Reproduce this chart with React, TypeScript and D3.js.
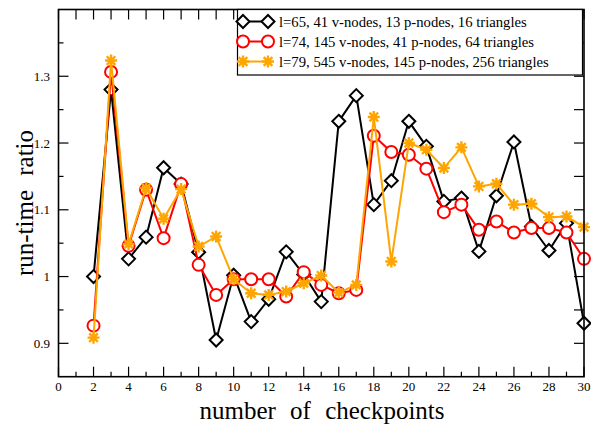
import React from "react";
import * as d3 from "d3";

const checkpoints = d3.range(2, 31);

const l65 = [1.0, 1.28, 1.0265, 1.059, 1.163, 1.1385, 1.0365, 0.905, 1.002, 0.9325, 0.966, 1.037, 1.003, 0.9625, 1.2325, 1.271, 1.1077, 1.1436, 1.2325, 1.195, 1.1126, 1.1176, 1.0377, 1.121, 1.2016, 1.075, 1.039, 1.08, 0.93];
const l74 = [0.9265, 1.3065, 1.046, 1.13, 1.0575, 1.1385, 1.0175, 0.9725, 0.996, 0.996, 0.996, 0.97, 1.0066, 0.9875, 0.975, 0.98, 1.211, 1.1866, 1.1825, 1.1616, 1.0965, 1.1077, 1.07, 1.0825, 1.066, 1.0726, 1.0726, 1.066, 1.0265];
const l79 = [0.9085, 1.3235, 1.0486, 1.1327, 1.0865, 1.131, 1.045, 1.06, 0.996, 0.975, 0.9725, 0.9775, 0.99, 1.0015, 0.976, 0.9875, 1.239, 1.0225, 1.2, 1.19, 1.1625, 1.1935, 1.135, 1.139, 1.1077, 1.109, 1.089, 1.09, 1.074];

const seriesNames = [
  "l=65, 41 v-nodes, 13 p-nodes, 16 triangles",
  "l=74, 145 v-nodes, 41 p-nodes, 64 triangles",
  "l=79, 545 v-nodes, 145 p-nodes, 256 triangles",
];
const seriesColors = ["#000000", "#ff0000", "#ffa500"];
const seriesMarkers = ["diamond", "circle", "star"];
const seriesValues = [l65, l74, l79];

const xTicks = d3.range(0, 31, 2);
const yTicks = [0.9, 1, 1.1, 1.2, 1.3];

const W = 591;
const H = 431;
const left = 58.5;
const right = 584;
const top = 9.5;
const bottom = 376.7;

const serif = "Liberation Serif, Times New Roman, Times, serif";

function markerPath(kind: string): string {
  if (kind === "diamond") return "M0,-6.5L6.5,0L0,6.5L-6.5,0Z";
  if (kind === "star") {
    const r = 6;
    const d = r * 0.72;
    return `M0,${-r}V${r}M${-r},0H${r}M${-d},${-d}L${d},${d}M${-d},${d}L${d},${-d}`;
  }
  return d3.symbol(d3.symbolCircle, 113)() as string;
}

function Marker({ kind, color, x, y }: { kind: string; color: string; x: number; y: number }) {
  return (
    <path
      d={markerPath(kind)}
      transform={`translate(${x},${y})`}
      fill={kind === "star" ? "none" : "#fff"}
      stroke={color}
      strokeWidth={kind === "star" ? 2.4 : 2}
    />
  );
}

export default function App() {
  const x = d3.scaleLinear().domain([0, 30]).range([left, right]);
  const y = d3.scaleLinear().domain([0.85, 1.4]).range([bottom, top]);

  const line = d3
    .line<number>()
    .x((_, i) => x(checkpoints[i]))
    .y((v) => y(v));

  const xMinor = d3.range(1, 30, 2);
  const yMinor = d3.range(0.95, 1.4, 0.1);

  return (
    <svg
      width={W}
      height={H}
      style={{ position: "absolute", left: 0, top: 0, background: "#fff", fontFamily: serif }}
    >
      <rect width={W} height={H} fill="#fff" />

      {/* ticks */}
      <g stroke="#000" strokeWidth={1.2}>
        {xTicks.map((t) => (
          <g key={"xt" + t}>
            <line x1={x(t)} x2={x(t)} y1={bottom} y2={bottom - 10} />
            <line x1={x(t)} x2={x(t)} y1={top} y2={top + 10} />
          </g>
        ))}
        {xMinor.map((t) => (
          <g key={"xm" + t}>
            <line x1={x(t)} x2={x(t)} y1={bottom} y2={bottom - 5} />
            <line x1={x(t)} x2={x(t)} y1={top} y2={top + 10} />
          </g>
        ))}
        {yTicks.map((t) => (
          <g key={"yt" + t}>
            <line x1={left} x2={left + 10} y1={y(t)} y2={y(t)} />
            <line x1={right} x2={right - 10} y1={y(t)} y2={y(t)} />
          </g>
        ))}
        {yMinor.map((t) => (
          <g key={"ym" + t}>
            <line x1={left} x2={left + 5} y1={y(t)} y2={y(t)} />
            <line x1={right} x2={right - 10} y1={y(t)} y2={y(t)} />
          </g>
        ))}
      </g>

      {/* series */}
      {seriesValues.map((vals, si) => (
        <g key={"s" + si}>
          <path d={line(vals) as string} fill="none" stroke={seriesColors[si]} strokeWidth={2} strokeLinejoin="round" />
          {vals.map((v, i) => (
            <Marker key={i} kind={seriesMarkers[si]} color={seriesColors[si]} x={x(checkpoints[i])} y={y(v)} />
          ))}
        </g>
      ))}

      {/* frame */}
      <rect x={left} y={top} width={right - left} height={bottom - top} fill="none" stroke="#000" strokeWidth={1.6} />

      {/* tick labels */}
      <g fill="#000" style={{ fontSize: 13, fontFamily: serif }}>
        {xTicks.map((t) => (
          <text key={"xl" + t} x={x(t)} y={391} textAnchor="middle">
            {t}
          </text>
        ))}
        {yTicks.map((t) => (
          <text key={"yl" + t} x={50} y={y(t) + 4.5} textAnchor="end">
            {d3.format("~g")(t)}
          </text>
        ))}
      </g>

      {/* axis titles */}
      <text x={322} y={419} textAnchor="middle" style={{ fontSize: 25, fontFamily: serif, wordSpacing: 8 }}>
        number of checkpoints
      </text>
      <text
        transform={`translate(33,${203}) rotate(-90)`}
        textAnchor="middle"
        style={{ fontSize: 25, fontFamily: serif, wordSpacing: 8 }}
      >
        run-time ratio
      </text>

      {/* legend */}
      <g>
        <rect x={237.5} y={9.5} width={345} height={65.5} fill="#fff" stroke="#000" strokeWidth={1.2} />
        {seriesNames.map((name, si) => {
          const cy = 21.5 + si * 20;
          return (
            <g key={"lg" + si}>
              <line x1={243} x2={268} y1={cy} y2={cy} stroke={seriesColors[si]} strokeWidth={2} />
              <Marker kind={seriesMarkers[si]} color={seriesColors[si]} x={243} y={cy} />
              <Marker kind={seriesMarkers[si]} color={seriesColors[si]} x={268} y={cy} />
              <text x={279} y={cy + 5} style={{ fontSize: 14.7, fontFamily: serif }}>
                {name}
              </text>
            </g>
          );
        })}
      </g>
    </svg>
  );
}
